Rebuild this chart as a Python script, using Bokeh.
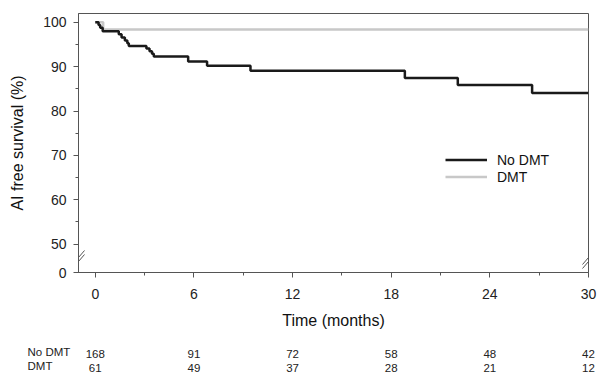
from bokeh.plotting import figure
from bokeh.models import (Range1d, FixedTicker, Legend, LegendItem, Arrow, LinearAxis, Title)
from bokeh.embed import file_html
from bokeh.resources import INLINE

# ---------------- data ----------------
month_ticks = [0, 6, 12, 18, 24, 30]
month_minor = [3, 9, 15, 21, 27]
surv_ticks = [50, 60, 70, 80, 90, 100]
surv_minor = [55, 65, 75, 85, 95]

no_dmt_time = [0, 0.2, 0.3, 0.45, 1.43, 1.6, 1.8, 1.95, 2.04, 3.11, 3.3, 3.45, 3.56,
               5.65, 6.8, 9.44, 18.83, 22.05, 26.57, 30]
no_dmt_surv = [100, 99.4, 98.8, 98.0, 97.3, 96.6, 95.9, 95.3, 94.7, 94.1, 93.5, 92.9, 92.3,
               91.2, 90.2, 89.1, 87.45, 85.9, 84.1, 84.1]

dmt_time = [0, 0.48, 30]
dmt_surv = [100, 98.4, 98.4]

risk_groups = ["No DMT", "DMT"]
risk_no_dmt = [168, 91, 72, 58, 48, 42]
risk_dmt = [61, 49, 37, 28, 21, 12]

# ---------------- layout constants ----------------
W, H = 597, 376
MB_LEFT, MB_RIGHT, MB_TOP, MB_BOTTOM = 78, 9, 13, 104
X_START, X_END = -1.02, 30
Y_BREAK, Y_END = 43.6, 102
FRAME_W = W - MB_LEFT - MB_RIGHT
FRAME_H = H - MB_TOP - MB_BOTTOM
x_per_px = (X_END - X_START) / FRAME_W
y_per_px = (Y_END - Y_BREAK) / FRAME_H

FONT = "Liberation Sans"
AXIS_COL = "#555555"
TXT_COL = "#222222"

p = figure(width=W, height=H, x_range=Range1d(X_START, X_END),
           y_range=Range1d(Y_BREAK, Y_END), output_backend="svg",
           toolbar_location=None, min_border_left=MB_LEFT, min_border_right=MB_RIGHT,
           min_border_top=MB_TOP, min_border_bottom=MB_BOTTOM)
p.xgrid.visible = False
p.ygrid.visible = False
p.outline_line_color = AXIS_COL
p.outline_line_width = 1
p.background_fill_color = "white"
p.border_fill_color = "white"

p.xaxis.ticker = FixedTicker(ticks=month_ticks, minor_ticks=month_minor)
p.yaxis.ticker = FixedTicker(ticks=[Y_BREAK] + surv_ticks, minor_ticks=surv_minor)
p.yaxis.major_label_overrides = {Y_BREAK: "0"}

for ax in (p.xaxis[0], p.yaxis[0]):
    ax.axis_line_color = AXIS_COL
    ax.major_tick_line_color = AXIS_COL
    ax.minor_tick_line_color = AXIS_COL
    ax.major_tick_out = 5
    ax.major_tick_in = 0
    ax.minor_tick_out = 3
    ax.minor_tick_in = 0
    ax.major_label_text_font = FONT
    ax.major_label_text_font_size = "14px"
    ax.major_label_text_color = TXT_COL
    ax.axis_label_text_font = FONT
    ax.axis_label_text_font_size = "16px"
    ax.axis_label_text_font_style = "normal"
    ax.axis_label_text_color = "#111111"

p.xaxis.axis_label = "Time (months)"
p.yaxis.axis_label = "AI free survival (%)"
p.xaxis.major_label_standoff = 11
p.xaxis.axis_label_standoff = 10
p.yaxis.major_label_standoff = 7
p.yaxis.axis_label_standoff = 14

r_dmt = p.step(dmt_time, dmt_surv, mode="after", line_color="#c8c8c8", line_width=2.5)
r_no = p.step(no_dmt_time, no_dmt_surv, mode="after", line_color="#1a1a1a", line_width=2.5)

legend = Legend(items=[LegendItem(label="No DMT", renderers=[r_no]),
                       LegendItem(label="DMT", renderers=[r_dmt])],
                location=(367, 87), border_line_color=None, background_fill_alpha=0,
                padding=0, margin=0, spacing=0, glyph_width=42, glyph_height=17,
                label_height=17, label_standoff=10, label_text_font=FONT,
                label_text_font_size="14px", label_text_color="#111111")
p.add_layout(legend)

# axis break marks
for xc in (X_START, X_END):
    yc = Y_BREAK + 13 * y_per_px
    for off in (-2, 2):
        p.add_layout(Arrow(end=None, x_start=xc - 6 * x_per_px, y_start=yc - (7 - off) * y_per_px,
                           x_end=xc + 6 * x_per_px, y_end=yc + (7 + off) * y_per_px,
                           line_color=AXIS_COL, line_width=1))

# ---------------- number-at-risk table (extra label-only axes below) ----------------
ROW_STANDOFF = [18, 3]
for vals, sto in zip([risk_no_dmt, risk_dmt], ROW_STANDOFF):
    ax = LinearAxis(ticker=FixedTicker(ticks=month_ticks, minor_ticks=[]),
                    major_label_overrides={m: str(v) for m, v in zip(month_ticks, vals)},
                    axis_line_color=None, major_tick_line_color=None,
                    minor_tick_line_color=None, major_tick_out=0, major_tick_in=0,
                    minor_tick_out=0, minor_tick_in=0, major_label_standoff=sto,
                    major_label_text_font=FONT, major_label_text_font_size="11.5px",
                    major_label_text_color=TXT_COL)
    p.add_layout(ax, "below")

# row names of the table: a left-aligned two-line title that overhangs into the corner
row_title = Title(text="\n".join(risk_groups), align="left", offset=27 - MB_LEFT,
                  vertical_align="top", standoff=-57, text_font=FONT,
                  text_font_size="11.5px", text_font_style="normal", text_color=TXT_COL,
                  text_line_height=1.2)
p.add_layout(row_title, "below")

open("out.html", "w").write(file_html(p, INLINE))
